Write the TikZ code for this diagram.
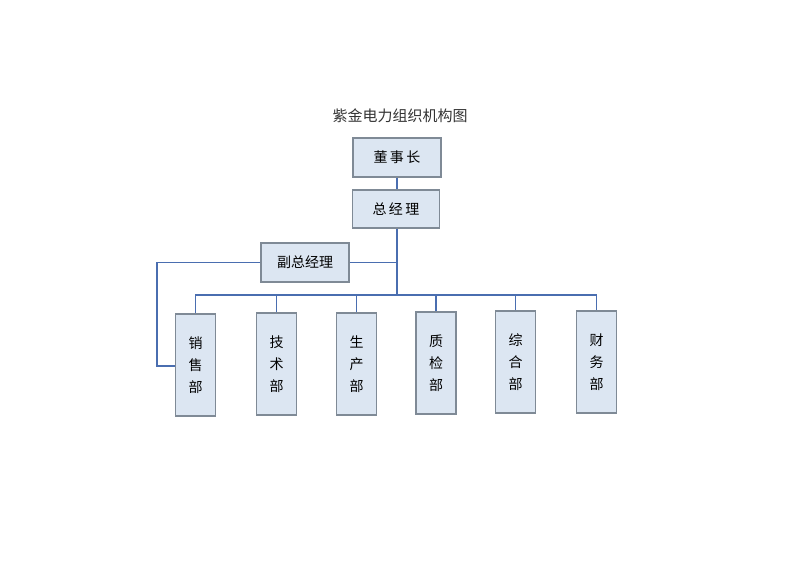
\documentclass[tikz,border=0pt]{standalone}
\usepackage{fontspec}
\setmainfont{Noto Sans CJK SC}
\begin{document}
\begin{tikzpicture}[x=1pt,y=-1pt,
  box/.style={draw=boxline,fill=boxfill,line width=1.2pt,inner sep=0pt,font=\fontsize{14}{16}\selectfont},
  dept/.style={box,minimum width=40pt,minimum height=102pt,align=center,font=\fontsize{14}{22}\selectfont},
  link/.style={draw=linkc,line width=1.3pt}]
\definecolor{boxfill}{HTML}{DCE6F2}
\definecolor{boxline}{HTML}{7F8A96}
\definecolor{linkc}{HTML}{4A6EB0}
\useasboundingbox[fill=white] (0,0) rectangle (800,565);
\node[font=\fontsize{15}{17}\selectfont,text=black!80] (title) at (400,116) {紫金电力组织机构图};
\node[box,minimum width=88pt,minimum height=39pt] (ceo) at (397,157.5) {董\,事\,长};
\node[box,minimum width=87pt,minimum height=38pt] (gm) at (396,209) {总\,经\,理};
\node[box,minimum width=88pt,minimum height=39pt] (vgm) at (305,262.5) {副总经理};
\node[dept] (d1) at (195.5,365) {销\\售\\部};
\node[dept] (d2) at (276.5,364) {技\\术\\部};
\node[dept] (d3) at (356.5,364) {生\\产\\部};
\node[dept] (d4) at (436,363) {质\\检\\部};
\node[dept] (d5) at (515.5,362) {综\\合\\部};
\node[dept] (d6) at (596.5,362) {财\\务\\部};
\coordinate (bar) at (397,295);
\coordinate (lc) at (157,366);
\draw[link] (ceo.south) -- (ceo.south |- gm.north);
\draw[link] (gm.south -| bar) -- (bar);
\draw[link] (vgm.east) -- (vgm.east -| bar);
\draw[link] (d1.north) |- (bar) -| (d6.north);
\foreach \d in {d2,d3,d4,d5} \draw[link] (\d.north) -- (\d.north |- bar);
\draw[link] (vgm.west) -| (lc) -- (lc -| d1.west);
\end{tikzpicture}
\end{document}
